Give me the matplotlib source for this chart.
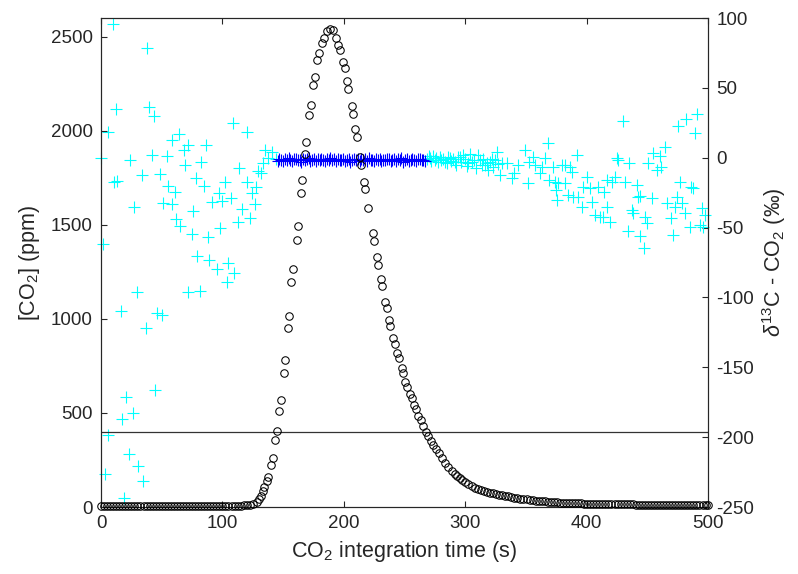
import numpy as np
import matplotlib
matplotlib.use("Agg")
import matplotlib.pyplot as plt

# ---------------- data ----------------
# [CO2] (ppm) versus integration time (s)
t_co2_base = [0, 2.5, 5, 7.5, 10, 12.5, 15, 17.5, 20, 22.5, 25, 27.5, 30, 32.5, 35, 37.5,
              40, 42.5, 45, 47.5, 50, 52.5, 55, 57.5, 60, 62.5, 65, 67.5, 70, 72.5, 75, 77.5,
              80, 82.5, 85, 87.5, 90, 92.5, 95, 97.5, 100, 102.5, 105, 107.5, 110, 112.5, 115, 117.5]
co2_base = [7, 6, 7, 7, 6, 7, 7, 6, 7, 7, 6, 7, 7, 7, 6, 7, 7, 6, 7, 7, 7, 6, 7, 7, 6, 7, 7, 7, 6, 7,
            7, 6, 7, 7, 7, 6, 7, 7, 7, 6, 7, 7, 7, 8, 7, 8, 8, 9]

t_co2_peak = [120.0, 122.8, 125.4, 128.2, 130.1, 131.5, 133.7, 134.5, 137.0, 137.8,
              140.2, 141.4, 143.5, 144.7, 146.6, 148.0, 150.5, 151.5, 153.8, 155.1,
              156.8, 157.8, 161.2, 162.5, 164.7, 165.8, 168.0, 168.8, 171.5, 172.7,
              174.8, 176.2, 178.1, 179.5, 181.8, 183.6, 185.9, 188.6, 190.8, 193.5,
              195.4, 196.8, 199.5, 200.7, 202.6, 203.7, 206.5, 207.5, 209.4, 210.6,
              213.3, 214.1, 216.6, 217.4, 220.1, 223.7, 224.8, 227.0, 227.9, 230.3,
              231.4, 233.9, 235.3, 237.2, 238.0, 240.7, 242.1, 244.0, 245.2, 247.6,
              248.5, 250.3, 251.7, 254.5, 255.9, 257.8, 259.4, 261.3, 263.3, 265.4,
              267.6, 269.5, 271.5, 273.7, 275.9, 278.1, 280.6, 283.3, 286.0, 288.8,
              291.5, 293.5, 295.6, 297.7, 299.8, 302.5, 305.3, 308.0, 310.7]
co2_peak = [10, 13, 18, 25, 41, 60, 87, 105, 138, 161,
            223, 259, 356, 404, 510, 569, 714, 781, 950, 1017,
            1194, 1265, 1419, 1495, 1669, 1738, 1876, 1942, 2083, 2140,
            2243, 2287, 2379, 2415, 2468, 2496, 2531, 2539, 2535, 2496,
            2455, 2429, 2364, 2332, 2264, 2223, 2133, 2092, 2009, 1965,
            1862, 1818, 1729, 1689, 1588, 1455, 1412, 1327, 1286, 1210,
            1175, 1091, 1059, 994, 964, 897, 866, 817, 790, 737,
            711, 666, 639, 599, 578, 542, 519, 485, 462, 432,
            400, 379, 351, 330, 307, 285, 259, 235, 214, 193,
            175, 164, 153, 143, 134, 122, 112, 103, 94]

t_co2_tail = [313, 315.5, 318, 320.5, 323, 325.5, 328, 330.5, 333, 335.5,
              338, 340.5, 343, 345.5, 348, 350.5, 353, 355.5, 358, 360.5,
              363, 365.5, 368, 370.5, 373, 375.5, 378, 380.5, 383, 385.5,
              388, 390.5, 393, 395.5, 398, 400.5, 403, 405.5, 408, 410.5,
              413, 415.5, 418, 420.5, 423, 425.5, 428, 430.5, 433, 435.5,
              438, 440.5, 443, 445.5, 448, 450.5, 453, 455.5, 458, 460.5,
              463, 465.5, 468, 470.5, 473, 475.5, 478, 480.5, 483, 485.5,
              488, 490.5, 493, 495.5, 498, 500]
co2_tail = [89, 85, 81, 77, 73, 69, 66, 62, 59, 56,
            53, 50, 47, 45, 42, 40, 38, 36, 34, 33,
            31, 30, 28, 27, 26, 25, 24, 23, 22, 21,
            21, 20, 19, 19, 18, 18, 17, 17, 17, 16,
            16, 16, 15, 15, 15, 15, 14, 14, 14, 14,
            14, 13, 13, 13, 13, 13, 13, 12, 12, 12,
            12, 12, 12, 12, 12, 11, 11, 11, 11, 11,
            11, 11, 11, 11, 11, 11]

# delta13C of CO2 (permil) versus time (s)
t_d13c_early = [0.0, 1.9, 3.3, 5.5, 6.0, 10.1, 10.6, 12.9, 12.4, 16.5, 17.0, 19.2, 20.6, 23.1,
                23.9, 26.6, 27.4, 29.9, 30.7, 33.5, 34.8, 36.8, 37.6, 39.8, 41.8, 43.9, 44.5,
                46.4, 48.6, 50.0, 51.3, 54.1, 54.9, 58.2, 58.7, 60.9, 61.8, 64.2, 65.1, 68.6,
                69.0, 71.4, 71.9, 74.7, 75.5, 78.0, 78.8, 81.5, 82.4, 85.1, 86.5, 88.4, 89.2,
                91.7, 95.3, 97.2, 98.0, 99.9, 102.1, 103.5, 104.8, 107.1, 109.0, 109.8, 112.6,
                113.6, 115.9, 120.0, 120.5, 122.7, 124.1, 126.8, 127.6, 129.5, 131.8, 133.7,
                135.1, 137.8, 140.6]
d13c_early = [-0.4, -62.0, -226.4, -198.5, 18.6, 95.7, -17.2, -16.7, 34.9, -109.7, -187.0, -243.6,
              -171.1, -212.1, -1.6, -182.9, -35.1, -95.9, -220.4, -12.4, -231.2, -122.1, 78.7,
              36.5, 1.9, 29.9, -166.3, -110.9, -11.9, -112.6, -32.2, 1.4, -20.0, 12.7, -33.3,
              -24.3, -44.1, 16.8, -48.9, 5.5, -5.2, 9.1, -96.3, -54.6, -38.1, -14.7, -70.4,
              -95.2, -2.9, -20.0, 9.1, -57.0, -73.2, -31.5, -79.7, -25.5, -50.5, -31.0, -17.6,
              -89.2, -75.1, -29.1, 25.1, -82.7, -46.2, -7.6, -36.7, -17.6, 18.6, -43.4, -25.0,
              -33.3, -20.7, -9.5, -11.2, -4.0, 5.5, -0.4, 4.3]

t_d13c_mid = [144.0, 145.5, 147.0, 148.5, 150.0, 151.5, 153.0, 154.5, 156.0, 157.5,
              159.0, 160.5, 162.0, 163.5, 165.0, 166.5, 168.0, 169.5, 171.0, 172.5,
              174.0, 175.5, 177.0, 178.5, 180.0, 181.5, 183.0, 184.5, 186.0, 187.5,
              189.0, 190.5, 192.0, 193.5, 195.0, 196.5, 198.0, 199.5, 201.0, 202.5,
              204.0, 205.5, 207.0, 208.5, 210.0, 211.5, 213.0, 214.5, 216.0, 217.5,
              219.0, 220.5, 222.0, 223.5, 225.0, 226.5, 228.0, 229.5, 231.0, 232.5,
              234.0, 235.5, 237.0, 238.5, 240.0, 241.5, 243.0, 244.5, 246.0, 247.5,
              249.0, 250.5, 252.0, 253.5, 255.0, 256.5, 258.0, 259.5, 261.0, 262.5,
              264.0, 265.5, 267.0]
d13c_mid = [-1.0, -2.1, -0.6, -1.5, -2.6, -0.9, -1.8, -0.3, -1.4, -2.3,
            -1.1, -0.7, -1.9, -1.3, -2.8, -0.8, -1.6, -1.2, -0.4, -2.0,
            -1.5, -0.9, -2.4, -1.1, -1.7, -0.6, -1.3, -2.2, -1.0, -1.6,
            -0.5, -1.9, -1.2, -2.5, -0.8, -1.4, -1.8, -0.7, -2.1, -1.3,
            -1.0, -2.7, -1.5, -0.6, -1.9, -1.2, -2.3, -0.9, -1.6, -1.1,
            -2.0, -0.4, -1.7, -1.3, -2.6, -1.0, -1.5, -0.8, -2.2, -1.4,
            -1.9, -0.7, -1.2, -2.4, -1.6, -0.9, -2.0, -1.1, -1.7, -0.5,
            -2.8, -1.3, -1.0, -2.1, -1.5, -0.8, -1.8, -2.5, -1.2, -0.6,
            -1.9, -1.4, -2.2]

t_d13c_late = [268.6, 269.8, 270.9, 272.1, 273.4, 275.0, 276.2, 277.5, 279.2, 280.4,
               281.8, 283.3, 284.6, 286.0, 287.4, 288.7, 290.1, 291.5, 292.8, 294.2,
               295.6, 296.9, 298.4, 299.7, 301.1, 302.5, 303.9, 305.8, 307.0, 308.5,
               310.7, 312.1, 313.5, 315.0, 316.2, 317.6, 319.0, 320.3, 321.8, 323.0,
               324.5, 325.9, 327.3,
               328.6, 330.5, 334.1, 338.2, 340.4, 343.7, 349.2, 351.9, 352.5, 356.0,
               357.4, 361.5, 362.9, 365.6, 368.4, 368.9, 372.5, 373.9, 374.4, 375.3,
               376.6, 379.4, 382.1, 382.6, 384.8, 386.2, 387.6, 389.0, 391.8, 393.1,
               395.9, 397.2, 400.0, 402.7, 404.1, 406.8, 409.5, 410.9, 413.7, 414.2,
               416.5, 417.0, 419.2, 420.6, 423.3, 424.7, 426.0, 430.1, 431.5, 434.2,
               435.1, 437.0, 438.4, 441.2, 442.5, 443.9, 444.4, 447.4, 448.0, 449.4,
               450.7, 453.5, 454.8, 457.6, 460.3, 461.7, 464.5, 465.9, 469.3, 471.3,
               472.7, 474.1, 475.4, 476.7, 478.2, 481.0, 482.3, 485.1, 486.4, 487.8,
               489.2, 490.6, 493.3, 494.7, 496.0, 497.4]
d13c_late = [-0.8, 0.9, -0.4, -2.2, 1.0, -1.6, -0.2, -3.0, 0.7, -1.8,
             -0.9, -2.9, -4.0, 0.3, -0.4, -2.5, -1.2, -2.9, -5.0, 0.5,
             0.7, -3.3, 1.9, -1.0, -6.0, -4.0, 2.5, -2.9, -1.5, -7.5,
             1.9, -1.6, -5.2, -0.6, -5.2, -3.5, -8.8, -2.9, -1.0, -6.5,
             -1.6, 4.0, -4.5,
             -12.4, -4.0, -4.0, -14.7, -11.2, -5.2, 5.3, -18.3, -2.9, 0.7,
             -5.2, -11.2, -6.4, -0.4, 10.3, -16.0, -6.4, -17.2, -23.1, -30.3,
             -18.3, -5.2, -5.2, -18.3, -26.7, -6.4, -10.0, -27.9, 1.9, -27.9,
             -35.1, -20.7, -13.6, -21.9, -31.5, -41.0, -20.7, -42.2, -42.2, -24.3,
             -16.0, -35.1, -45.8, -17.2, -13.6, -0.4, -1.6, 26.5, -17.2, -52.2,
             -4.0, -37.4, -39.8, -19.5, -27.9, -27.4, -56.0, -64.4, -42.2, -47.0,
             -4.0, -29.1, 3.1, -8.8, 1.2, -6.4, 7.9, -32.6, -43.4, -55.3,
             -35.1, -27.9, 22.7, -17.2, -32.6, -39.8, 27.5, -49.4, -20.7, -21.9,
             17.9, 31.3, -48.2, -36.2, -49.4, -41.0]

co2_threshold = 400  # ppm

# ---------------- figure ----------------
plt.rcParams['font.family'] = ['Liberation Sans', 'DejaVu Sans']
plt.rcParams['mathtext.fontset'] = 'custom'
plt.rcParams['mathtext.rm'] = 'Liberation Sans'
plt.rcParams['mathtext.it'] = 'Liberation Sans:italic'
plt.rcParams['axes.unicode_minus'] = False

axcol = (0.15, 0.15, 0.15)
fig = plt.figure(figsize=(7.98, 5.74), dpi=100)
ax = fig.add_axes([0.1266, 0.1167, 0.7606, 0.8519])
ax2 = ax.twinx()
ax.set_zorder(2)
ax.patch.set_visible(False)

t_co2 = np.array(t_co2_base + t_co2_peak + t_co2_tail)
co2 = np.array(co2_base + co2_peak + co2_tail)
t_d = np.array(t_d13c_early + t_d13c_mid + t_d13c_late)
d13c = np.array(d13c_early + d13c_mid + d13c_late)
high = np.interp(t_d, t_co2, co2) >= co2_threshold

ax.axhline(co2_threshold, color=(0.2, 0.2, 0.2), lw=0.9, zorder=1)
ax.plot(t_co2, co2, linestyle='none', marker='o', ms=5.4, mfc='none',
        mec='black', mew=0.75, clip_on=False, zorder=3)

ax2.plot(t_d[~high], d13c[~high], linestyle='none', marker='+', ms=8.5,
         mew=0.8, color=(0, 1, 1), clip_on=False)
ax2.plot(t_d[high], d13c[high], linestyle='none', marker='+', ms=8.5,
         mew=0.8, color=(0, 0, 1), clip_on=False)

ax.set_xlim(0, 500)
ax.set_ylim(0, 2600)
ax2.set_ylim(-250, 100)
ax.set_xticks([0, 100, 200, 300, 400, 500])
ax.set_yticks([0, 500, 1000, 1500, 2000, 2500])
ax2.set_yticks([-250, -200, -150, -100, -50, 0, 50, 100])

for a in (ax, ax2):
    for s in a.spines.values():
        s.set_color(axcol)
        s.set_linewidth(0.8)
ax.tick_params(direction='in', length=4.5, width=0.8, color=axcol, labelcolor=axcol,
               labelsize=13.5, top=True, right=False, pad=6)
ax2.tick_params(direction='in', length=4.5, width=0.8, color=axcol, labelcolor=axcol,
                labelsize=13.5, pad=6)

ax.set_xlabel('CO$_2$ integration time (s)', fontsize=15.5, labelpad=5, color=axcol)
ax.set_ylabel('[CO$_2$] (ppm)', fontsize=15.5, labelpad=6, color=axcol)
ax2.set_ylabel(r'$\delta^{13}$C - CO$_2$ (‰)', fontsize=15.5, labelpad=4, color=axcol)

fig.savefig('out.png', dpi=100)
